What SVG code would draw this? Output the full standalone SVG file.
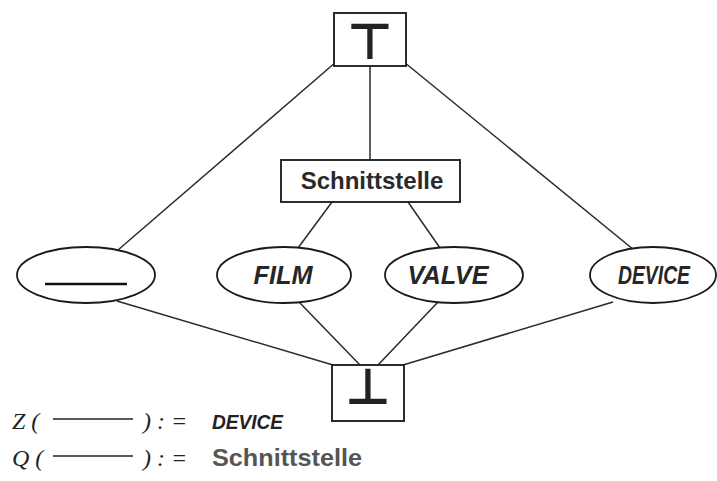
<svg xmlns="http://www.w3.org/2000/svg" width="717" height="481" viewBox="0 0 717 481">
  <style>
    .box { fill: #fff; stroke: #222; stroke-width: 1.9; }
    .ell { fill: #fff; stroke: #1a1a1a; stroke-width: 1.8; }
    .edge { stroke: #2a2a2a; stroke-width: 1.5; fill: none; }
    .sym { font-family: "DejaVu Sans", sans-serif; font-weight: bold; fill: #222; text-anchor: middle; }
    .lab { font-family: "Liberation Sans", Arial, sans-serif; font-weight: bold; font-style: italic; fill: #262626; text-anchor: middle; font-size: 26px; }
    .iface { font-family: "Liberation Sans", Arial, sans-serif; font-weight: bold; fill: #2a2a2a; font-size: 24px; }
    .math { font-family: "Liberation Serif", "Times New Roman", serif; font-style: italic; fill: #222; font-size: 24px; }
    .dash { stroke: #222; stroke-width: 1.6; }
  </style>
  <rect width="717" height="481" fill="#fff"/>

  <g id="connectors">
    <line class="edge" x1="336" y1="62" x2="118" y2="250"/>
    <line class="edge" x1="370" y1="66" x2="370" y2="160"/>
    <line class="edge" x1="404" y1="62" x2="634" y2="250"/>
    <line class="edge" x1="332" y1="202" x2="298" y2="248"/>
    <line class="edge" x1="408" y1="202" x2="440" y2="248"/>
    <line class="edge" x1="117" y1="301" x2="333" y2="365"/>
    <line class="edge" x1="299" y1="302" x2="360" y2="365"/>
    <line class="edge" x1="438" y1="302" x2="378" y2="365"/>
    <line class="edge" x1="613" y1="302" x2="403" y2="365"/>
  </g>

  <g id="top">
    <rect class="box" x="334" y="13" width="72" height="53"/>
    <text class="sym" x="370" y="59" font-size="50">⊤</text>
  </g>

  <g id="schnittstelle">
    <rect class="box" x="281" y="160" width="179" height="42"/>
    <text class="iface" x="372" y="189" text-anchor="middle">Schnittstelle</text>
  </g>

  <g id="blank">
    <ellipse class="ell" cx="86" cy="275" rx="69" ry="28"/>
    <line x1="45" y1="284" x2="127" y2="284" stroke="#111" stroke-width="2.6"/>
  </g>

  <g id="film">
    <ellipse class="ell" cx="284" cy="275" rx="67" ry="28"/>
    <text class="lab" x="283" y="284" textLength="59" lengthAdjust="spacingAndGlyphs">FILM</text>
  </g>

  <g id="valve">
    <ellipse class="ell" cx="454" cy="275" rx="69" ry="28"/>
    <text class="lab" x="448" y="284" textLength="81" lengthAdjust="spacingAndGlyphs">VALVE</text>
  </g>

  <g id="device">
    <ellipse class="ell" cx="653" cy="275" rx="63" ry="28"/>
    <text class="lab" x="654" y="284" textLength="72" lengthAdjust="spacingAndGlyphs">DEVICE</text>
  </g>

  <g id="bottom">
    <rect class="box" x="332" y="365" width="72" height="56"/>
    <text class="sym" x="368" y="404" font-size="50">⊥</text>
  </g>

  <g id="legend">
    <text class="math" x="12" y="429">Z (</text>
    <line class="dash" x1="53" y1="419" x2="133" y2="419"/>
    <text class="math" x="143" y="429">) : =</text>
    <text x="212" y="429" font-family="Liberation Sans, Arial, sans-serif" font-weight="bold" font-style="italic" font-size="21" fill="#222" textLength="71" lengthAdjust="spacingAndGlyphs">DEVICE</text>

    <text class="math" x="12" y="466">Q (</text>
    <line class="dash" x1="53" y1="456" x2="133" y2="456"/>
    <text class="math" x="143" y="466">) : =</text>
    <text x="212" y="466" font-family="Liberation Sans, Arial, sans-serif" font-weight="bold" font-size="24" fill="#555" textLength="150" lengthAdjust="spacingAndGlyphs">Schnittstelle</text>
  </g>
</svg>
